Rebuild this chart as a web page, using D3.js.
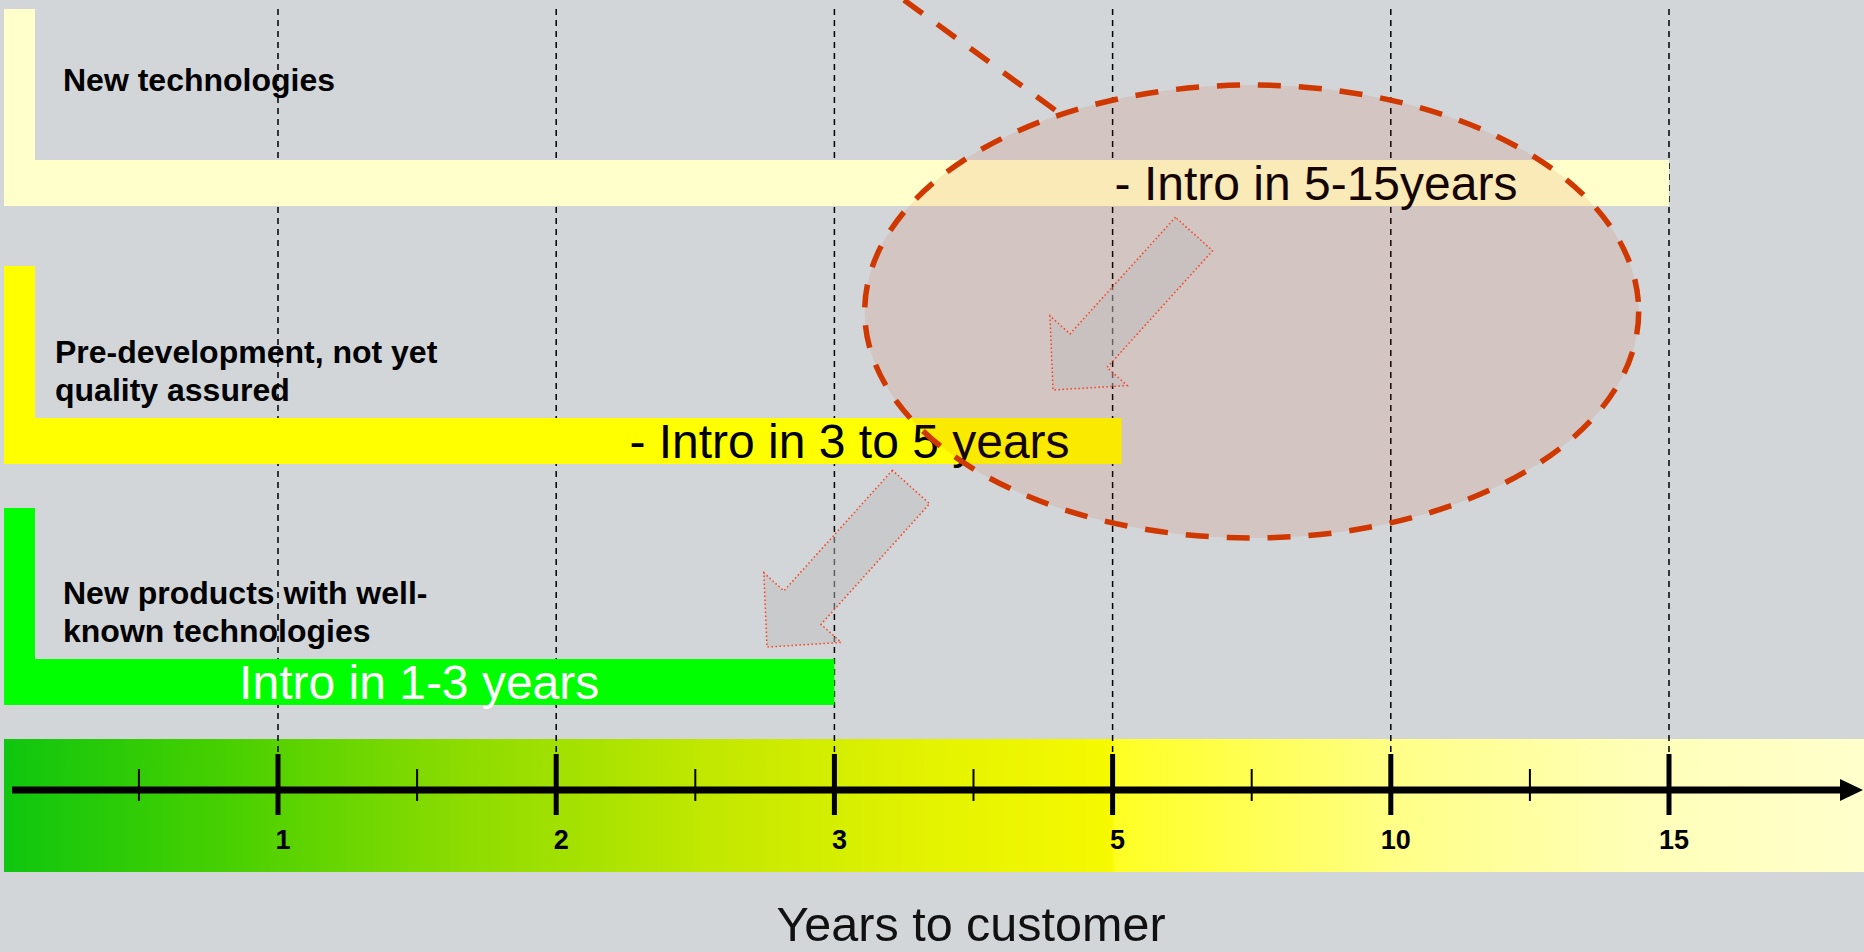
<!DOCTYPE html>
<meta charset="utf-8">
<style>
  body { margin: 0; background: #d3d6d9; }
  svg { display: block; font-family: "Liberation Sans", Arial, sans-serif; }
</style>
<body>
<script src="https://cdn.jsdelivr.net/npm/d3@7"></script>
<script>
  // years on the time axis (equally spaced, not proportional)
  var tickLabels = ["1", "2", "3", "5", "10", "15"];
  // the three stages, top to bottom
  var stageLines = [
    ["New technologies"],
    ["Pre-development, not yet", "quality assured"],
    ["New products with well-", "known technologies"]
  ];
  var introLabels = ["- Intro in 5-15years", "- Intro in 3 to 5 years", "Intro in 1-3 years"];
  var introEnd = ["15", "5", "3"];
  var axisTitle = "Years to customer";

  var W = 1864, H = 952;
  var svg = d3.select("body").append("svg")
      .attr("width", W)
      .attr("height", H);

  svg.append("rect").attr("width", W).attr("height", H).attr("fill", "#d3d6d9");

  // index scale: tick i sits at x(i), minor ticks at half steps
  var x = d3.scaleLinear().domain([0, tickLabels.length - 1]).range([278, 1669]);
  var xi = function(lbl) { return x(tickLabels.indexOf(lbl)); };

  var axisY = 790;
  var band = {x: 4, y: 739, h: 133};

  // gradient for the axis band
  var defs = svg.append("defs");
  var grad = defs.append("linearGradient").attr("id", "yrs")
      .attr("x1", 0).attr("x2", 1).attr("y1", 0).attr("y2", 0);
  [[0, "#0fc60f"], [0.12, "#48d000"], [0.25, "#8edc00"], [0.38, "#c2e800"],
   [0.5, "#e4f300"], [0.595, "#f6f900"], [0.598, "#ffff24"], [0.75, "#ffff88"],
   [0.88, "#ffffb8"], [1, "#ffffcc"]].forEach(function(s) {
    grad.append("stop").attr("offset", s[0]).attr("stop-color", s[1]);
  });

  svg.append("rect")
      .attr("x", band.x).attr("y", band.y)
      .attr("width", W - band.x).attr("height", band.h)
      .attr("fill", "url(#yrs)");

  // dashed guide lines
  svg.append("g").selectAll("line")
      .data(tickLabels)
      .enter().append("line")
      .attr("x1", function(d, i) { return x(i); })
      .attr("x2", function(d, i) { return x(i); })
      .attr("y1", 9).attr("y2", 754)
      .attr("stroke", "#000").attr("stroke-width", 1.5)
      .attr("stroke-dasharray", "6,5");

  // stage rows
  var rows = [
    {top: 9, barTop: 160, color: "#ffffcc", labelX: 63, textColor: "#000", extra: 0},
    {top: 266, barTop: 418, color: "#ffff00", labelX: 55, textColor: "#000", extra: 9},
    {top: 508, barTop: 659, color: "#00ff00", labelX: 63, textColor: "#fff", extra: 0}
  ];
  var barH = 46, stemW = 31, lineH = 37.5;

  var stage = svg.append("g").selectAll("g")
      .data(rows)
      .enter().append("g");

  stage.append("path")
      .attr("d", function(r, i) {
        var end = xi(introEnd[i]) + r.extra;
        return "M" + band.x + "," + r.top + "H" + (band.x + stemW) + "V" + r.barTop +
               "H" + end + "V" + (r.barTop + barH) + "H" + band.x + "Z";
      })
      .attr("fill", function(r) { return r.color; });

  stage.append("text")
      .attr("font-size", 32).attr("font-weight", "bold").attr("fill", "#000")
      .selectAll("tspan")
      .data(function(r, i) {
        var n = stageLines[i].length;
        return stageLines[i].map(function(t, k) {
          return {t: t, x: r.labelX, y: (i === 0 ? r.barTop - 69 : r.barTop - 17.5 - (n - 1 - k) * lineH)};
        });
      })
      .enter().append("tspan")
      .attr("x", function(d) { return d.x; })
      .attr("y", function(d) { return d.y; })
      .text(function(d) { return d.t; });

  stage.append("text")
      .attr("font-size", 48)
      .attr("fill", function(r) { return r.textColor; })
      .attr("text-anchor", function(r, i) { return ["start", "end", "middle"][i]; })
      .attr("x", function(r, i) {
        var end = xi(introEnd[i]) + r.extra;
        if (i === 0) return xi("5") + 2;
        if (i === 1) return end - 52;
        return (band.x + end) / 2;
      })
      .attr("y", function(r) { return r.barTop + barH / 2 + 17; })
      .text(function(r, i) { return introLabels[i]; });

  // axis
  var axis = svg.append("g");
  axis.append("line")
      .attr("x1", 12).attr("x2", 1841)
      .attr("y1", axisY).attr("y2", axisY)
      .attr("stroke", "#000").attr("stroke-width", 7);
  axis.append("path")
      .attr("d", "M1840," + (axisY - 11) + "L1863," + axisY + "L1840," + (axisY + 11) + "Z")
      .attr("fill", "#000");

  axis.selectAll(".minor")
      .data(tickLabels)
      .enter().append("line")
      .attr("class", "minor")
      .attr("x1", function(d, i) { return x(i - 0.5); })
      .attr("x2", function(d, i) { return x(i - 0.5); })
      .attr("y1", 769).attr("y2", 801)
      .attr("stroke", "#000").attr("stroke-width", 2);

  axis.selectAll(".major")
      .data(tickLabels)
      .enter().append("line")
      .attr("class", "major")
      .attr("x1", function(d, i) { return x(i); })
      .attr("x2", function(d, i) { return x(i); })
      .attr("y1", 754).attr("y2", 815)
      .attr("stroke", "#000").attr("stroke-width", 5);

  axis.selectAll(".lbl")
      .data(tickLabels)
      .enter().append("text")
      .attr("class", "lbl")
      .attr("x", function(d, i) { return x(i) + 5; })
      .attr("y", 849)
      .attr("text-anchor", "middle")
      .attr("font-size", 27).attr("font-weight", "bold")
      .text(function(d) { return d; });

  svg.append("text")
      .attr("x", 971).attr("y", 941)
      .attr("text-anchor", "middle")
      .attr("font-size", 48.5).attr("fill", "#111")
      .text(axisTitle);

  // highlight ellipse between 5 and 10 years, with pointer line
  var red = "#cf3800";
  var ell = {cx: (xi("5") + xi("10")) / 2, cy: 311.5, rx: 387, ry: 226.5};
  svg.append("ellipse")
      .attr("cx", ell.cx).attr("cy", ell.cy)
      .attr("rx", ell.rx).attr("ry", ell.ry)
      .attr("fill", "#cc3300").attr("fill-opacity", 0.1)
      .attr("stroke", red).attr("stroke-width", 5.5)
      .attr("stroke-dasharray", "23,18");
  var pa = -2.086; // angle on the ellipse where the pointer meets it
  svg.append("line")
      .attr("x1", 904).attr("y1", 0)
      .attr("x2", ell.cx + ell.rx * Math.cos(pa)).attr("y2", ell.cy + ell.ry * Math.sin(pa))
      .attr("stroke", red).attr("stroke-width", 5.5)
      .attr("stroke-dasharray", "23,18");

  // block arrows moving down the stages
  function arrowPts(s, t, shaft, headW, headL) {
    var dx = t[0] - s[0], dy = t[1] - s[1], L = Math.hypot(dx, dy);
    var ux = dx / L, uy = dy / L, px = -uy, py = ux;
    var b = [t[0] - ux * headL, t[1] - uy * headL];
    return [
      [s[0] + px * shaft / 2, s[1] + py * shaft / 2],
      [b[0] + px * shaft / 2, b[1] + py * shaft / 2],
      [b[0] + px * headW / 2, b[1] + py * headW / 2],
      t,
      [b[0] - px * headW / 2, b[1] - py * headW / 2],
      [b[0] - px * shaft / 2, b[1] - py * shaft / 2],
      [s[0] - px * shaft / 2, s[1] - py * shaft / 2]
    ];
  }
  var arrows = [
    {s: [1194, 234], t: [1053, 390]},
    {s: [911, 487], t: [767, 647]}
  ];
  svg.append("g").selectAll("path")
      .data(arrows)
      .enter().append("path")
      .attr("d", function(a) { return "M" + arrowPts(a.s, a.t, 50, 104, 53).join("L") + "Z"; })
      .attr("fill", "#bdbdbe").attr("fill-opacity", 0.5)
      .attr("stroke", "#ff3d1a").attr("stroke-width", 1.5)
      .attr("stroke-dasharray", "1.5,2.5");
</script>
</body>
